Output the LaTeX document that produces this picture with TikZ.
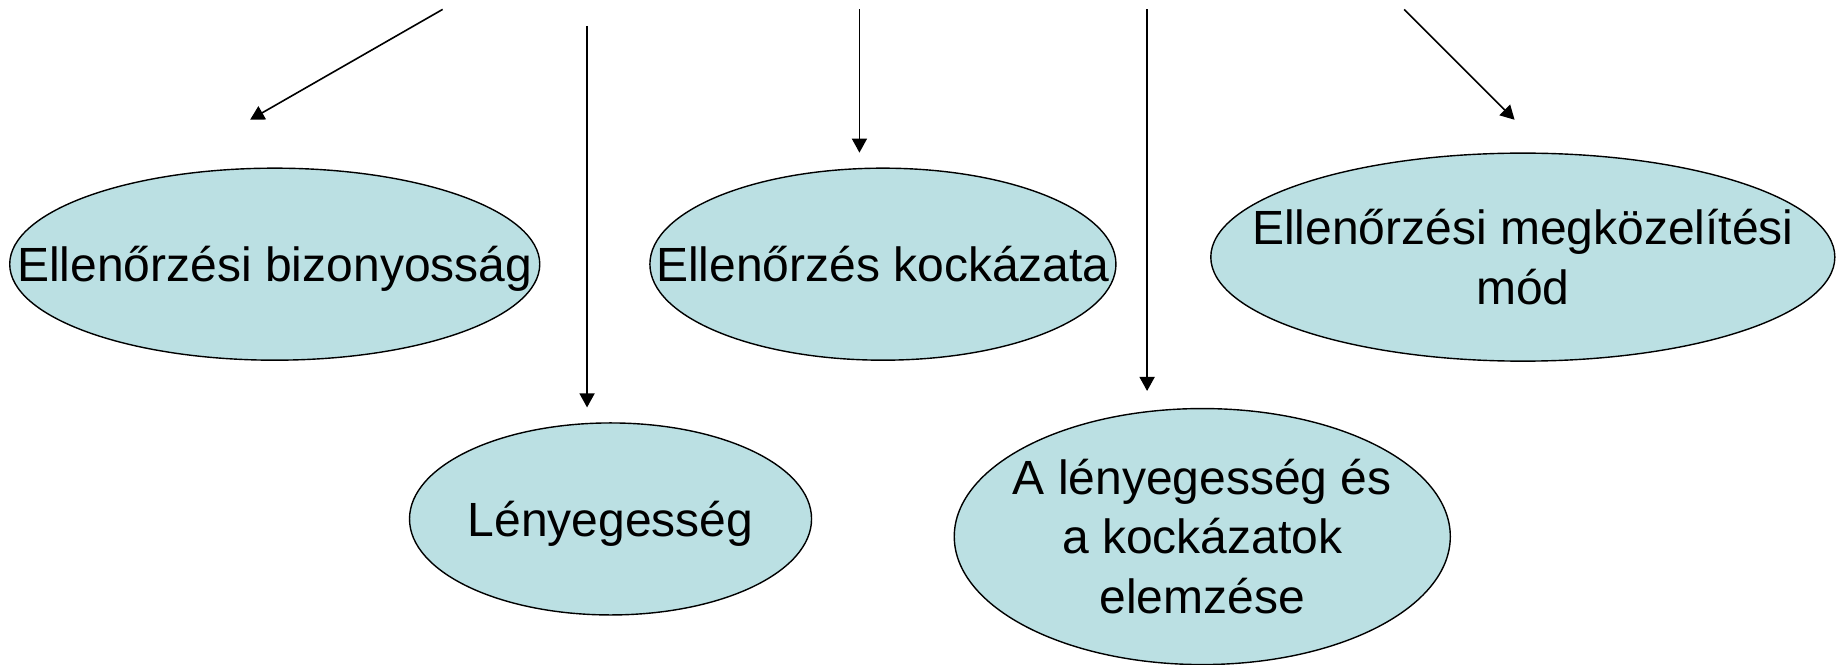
\documentclass[tikz,border=0pt]{standalone}
\usepackage{fontspec}
\setmainfont{Liberation Sans}
\usetikzlibrary{shapes.geometric,arrows.meta}
\definecolor{ellfill}{RGB}{187,224,227}
\newcommand{\ovaltext}[1]{\makebox[0pt][c]{\raisebox{-9pt}[0pt][0pt]{\begin{tabular}{@{}c@{}}#1\end{tabular}}}}
\tikzset{
  oval/.style={ellipse, draw=black, line width=0.7pt, fill=ellfill, inner sep=0pt,
    font=\fontsize{24}{29.6}\selectfont},
  conn/.style={draw=black, line width=0.8pt, -{Triangle[length=7pt,width=7.5pt]}}
}
\begin{document}
\begin{tikzpicture}[x=0.587pt,y=-0.587pt]
\useasboundingbox (0,0) rectangle (1568,566);
\node[oval, minimum width=265pt, minimum height=96pt] (e1) at (234,225) {\ovaltext{Ellenőrzési bizonyosság}};
\node[oval, minimum width=201pt, minimum height=96pt] (e2) at (520,442) {\ovaltext{Lényegesség}};
\node[oval, minimum width=233pt, minimum height=96pt] (e3) at (752,225) {\ovaltext{Ellenőrzés kockázata}};
\node[oval, minimum width=248pt, minimum height=128pt] (e4) at (1024,457) {\ovaltext{A lényegesség és\\a kockázatok\\elemzése}};
\node[oval, minimum width=312pt, minimum height=104pt] (e5) at (1297,219) {\ovaltext{Ellenőrzési megközelítési\\mód}};
\coordinate (s1) at (377,8);  \coordinate (t1) at (213,102);
\coordinate (s2) at (500,22); \coordinate (t2) at (500,347);
\coordinate (s3) at (732,8);  \coordinate (t3) at (732,130);
\coordinate (s4) at (977,8);  \coordinate (t4) at (977,333);
\coordinate (s5) at (1196,8); \coordinate (t5) at (1290,102);
\draw[conn] (s1) -- (t1);
\draw[conn] (s2) -- (t2);
\draw[conn] (s3) -- (t3);
\draw[conn] (s4) -- (t4);
\draw[conn] (s5) -- (t5);
\end{tikzpicture}
\end{document}
